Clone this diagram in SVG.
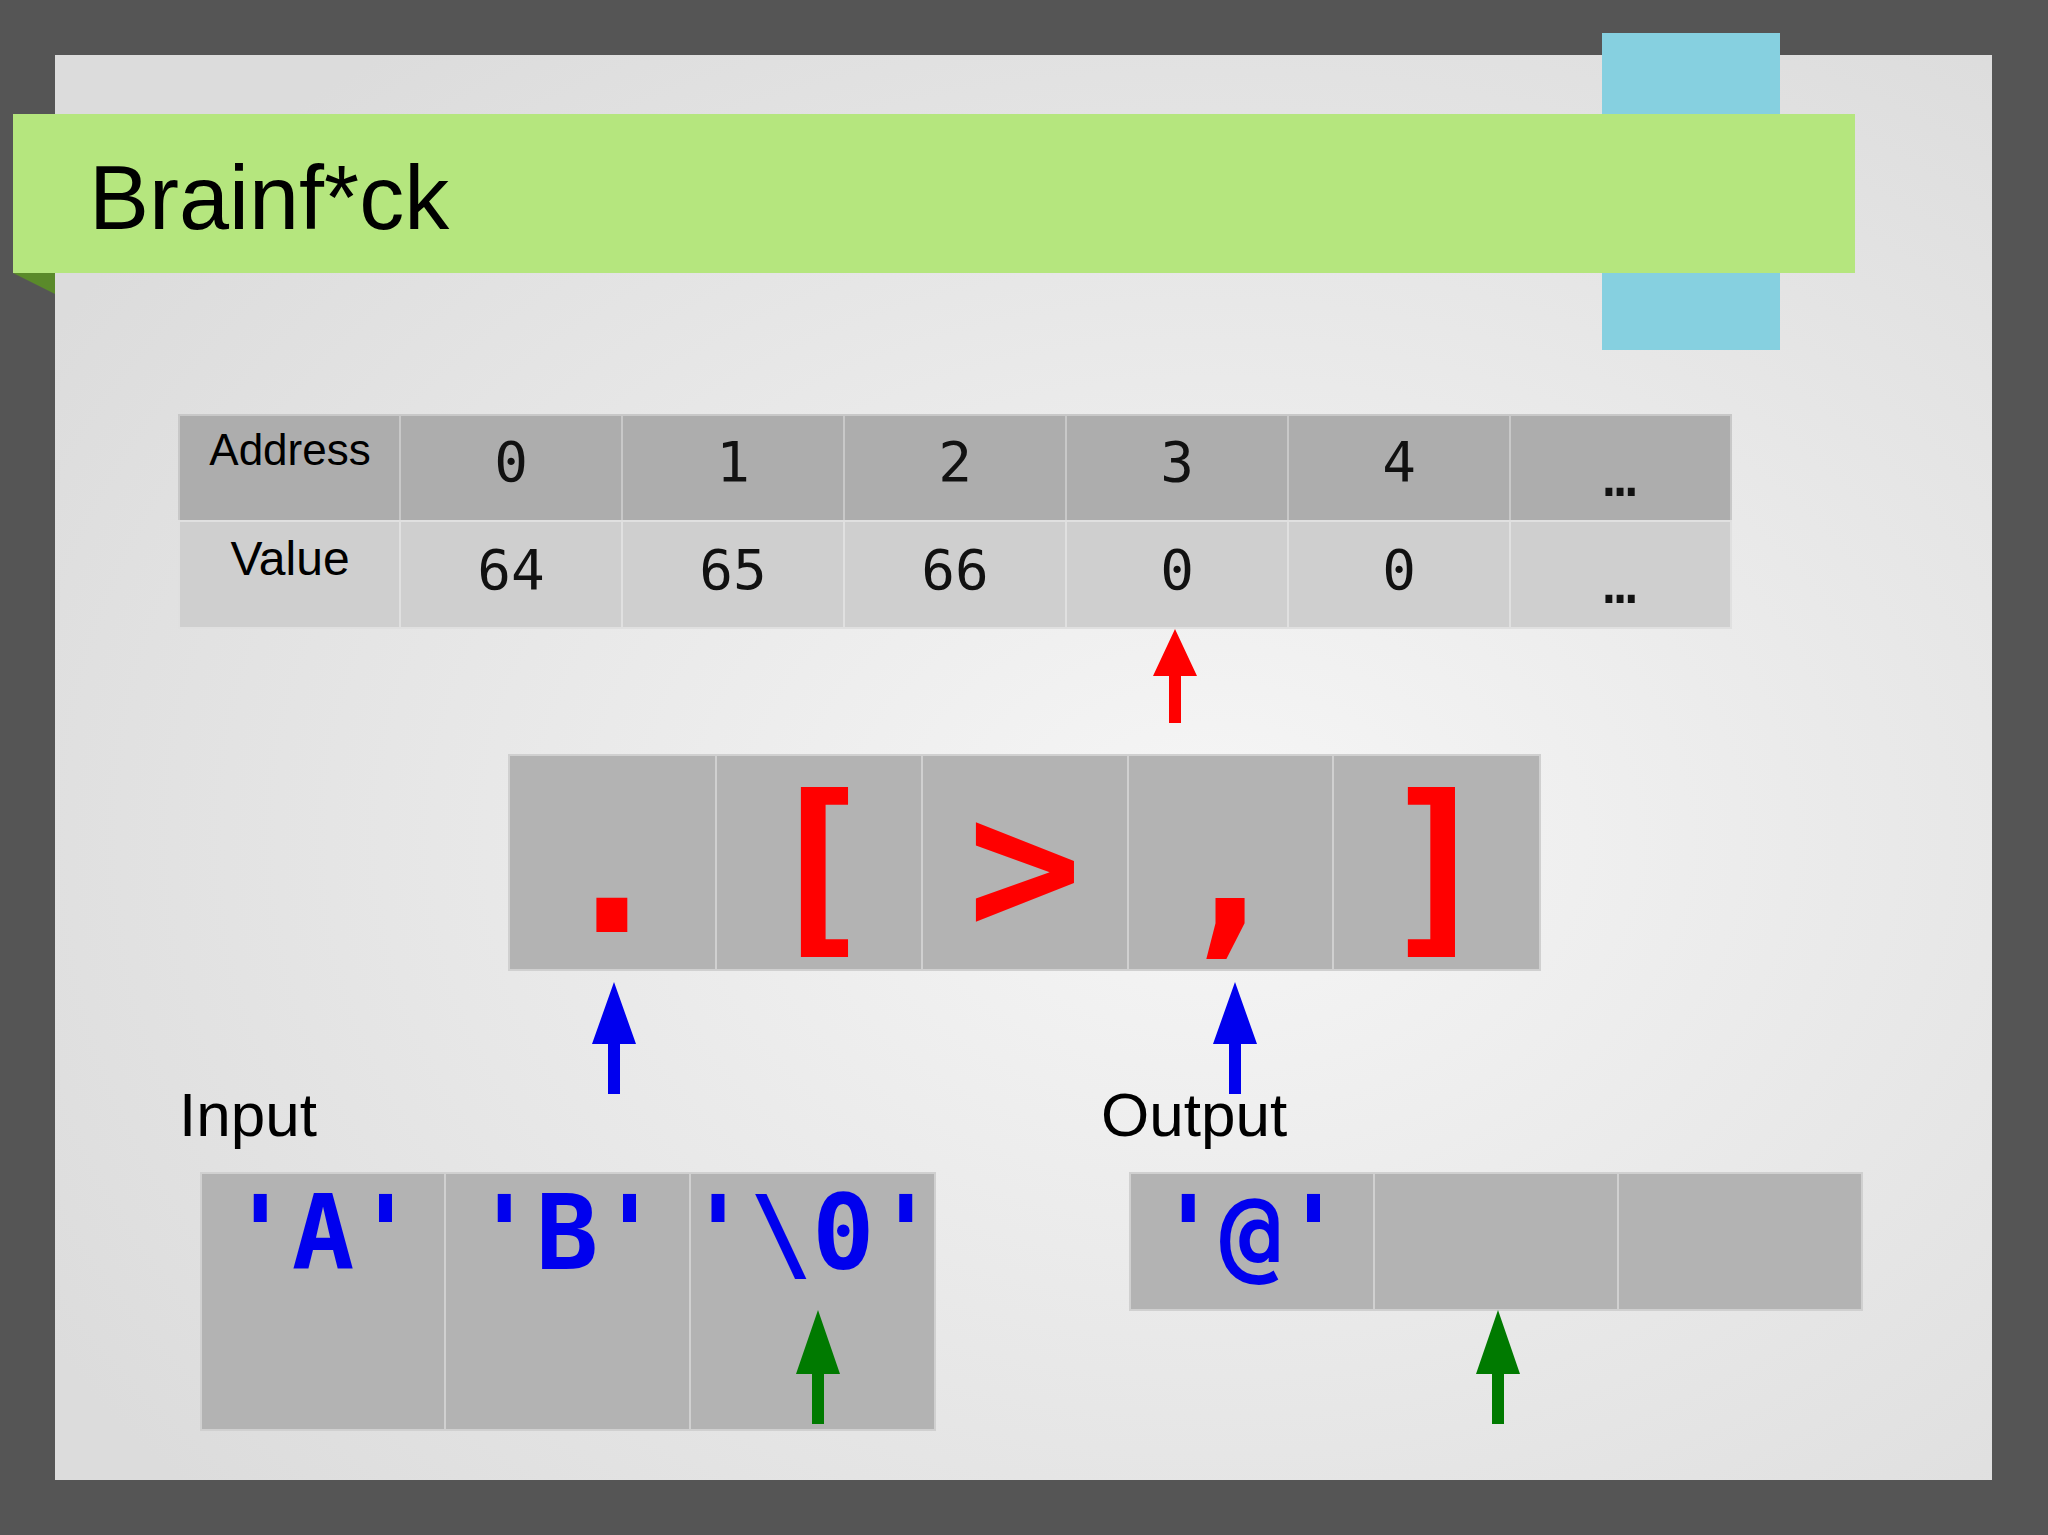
<svg xmlns="http://www.w3.org/2000/svg" width="2048" height="1535" viewBox="0 0 2048 1535">
<defs>
<radialGradient id="bg" cx="0.6" cy="0.55" r="0.7"><stop offset="0" stop-color="#f6f6f6"/><stop offset="1" stop-color="#dcdcdc"/></radialGradient>
<style>
.h{fill:#adadad;stroke:#c8c8c8;stroke-width:2}
.v{fill:#cfcfcf;stroke:#e0e0e0;stroke-width:2}
.c{fill:#b3b3b3;stroke:#d0d0d0;stroke-width:2}
.s{font-family:"Liberation Sans",sans-serif;fill:#000}
.m{font-family:"DejaVu Sans Mono",monospace;fill:#111;font-size:56px;text-anchor:middle}
.r{font-family:"DejaVu Sans Mono",monospace;font-weight:bold;fill:#ff0000;font-size:190px;text-anchor:middle}
.b{font-family:"DejaVu Sans Mono",monospace;font-weight:bold;fill:#0000ee;font-size:104px;text-anchor:middle}
</style>
</defs>
<rect width="2048" height="1535" fill="#555"/>
<rect x="55" y="55" width="1937" height="1425" fill="url(#bg)"/>
<rect x="1602" y="33" width="178" height="317" fill="#86d0e0"/>
<polygon points="13,273 55,273 55,294" fill="#5a8a2a"/>
<rect x="13" y="114" width="1842" height="159" fill="#b5e67e"/>
<text class="s" x="89" y="229" font-size="90">Brainf*ck</text>
<g id="table">
<rect class="h" x="179" y="415" width="221" height="106"/><rect class="h" x="400" y="415" width="222" height="106"/><rect class="h" x="622" y="415" width="222" height="106"/><rect class="h" x="844" y="415" width="222" height="106"/><rect class="h" x="1066" y="415" width="222" height="106"/><rect class="h" x="1288" y="415" width="222" height="106"/><rect class="h" x="1510" y="415" width="221" height="106"/>
<rect class="v" x="179" y="521" width="221" height="107"/><rect class="v" x="400" y="521" width="222" height="107"/><rect class="v" x="622" y="521" width="222" height="107"/><rect class="v" x="844" y="521" width="222" height="107"/><rect class="v" x="1066" y="521" width="222" height="107"/><rect class="v" x="1288" y="521" width="222" height="107"/><rect class="v" x="1510" y="521" width="221" height="107"/>
<text class="s" x="290" y="465" font-size="44" text-anchor="middle">Address</text>
<text class="s" x="290" y="575" font-size="48" text-anchor="middle">Value</text>
<text class="m" x="511" y="481">0</text><text class="m" x="733" y="481">1</text><text class="m" x="955" y="481">2</text><text class="m" x="1177" y="481">3</text><text class="m" x="1399" y="481">4</text><text class="m" x="1620" y="496">…</text>
<text class="m" x="511" y="589">64</text><text class="m" x="733" y="589">65</text><text class="m" x="955" y="589">66</text><text class="m" x="1177" y="589">0</text><text class="m" x="1399" y="589">0</text><text class="m" x="1620" y="603">…</text>
</g>
<g id="code">
<rect class="c" x="509" y="755" width="207" height="215"/><rect class="c" x="716" y="755" width="206" height="215"/><rect class="c" x="922" y="755" width="206" height="215"/><rect class="c" x="1128" y="755" width="205" height="215"/><rect class="c" x="1333" y="755" width="207" height="215"/>
<text class="r" x="612" y="932">.</text><text class="r" x="819" y="932">[</text><text class="r" x="1025" y="932">&gt;</text><text class="r" x="1230" y="932">,</text><text class="r" x="1437" y="932">]</text>
</g>
<text class="s" x="179" y="1136" font-size="62">Input</text>
<text class="s" x="1101" y="1136" font-size="62">Output</text>
<g id="input">
<rect class="c" x="201" y="1173" width="244" height="257"/><rect class="c" x="445" y="1173" width="245" height="257"/><rect class="c" x="690" y="1173" width="245" height="257"/>
<text class="b" x="323" y="1269">'A'</text><text class="b" x="567" y="1269">'B'</text><text class="b" x="812" y="1269">'\0'</text>
</g>
<g id="output">
<rect class="c" x="1130" y="1173" width="244" height="137"/><rect class="c" x="1374" y="1173" width="244" height="137"/><rect class="c" x="1618" y="1173" width="244" height="137"/>
<text class="b" x="1251" y="1269">'@'</text>
</g>
<g id="connectors">
<polygon points="1169,723 1181,723 1181,676 1197,676 1175,629 1153,676 1169,676" fill="#ff0000"/>
<polygon points="608,1094 620,1094 620,1044 636,1044 614,982 592,1044 608,1044" fill="#0000ee"/>
<polygon points="1229,1094 1241,1094 1241,1044 1257,1044 1235,982 1213,1044 1229,1044" fill="#0000ee"/>
<polygon points="812,1424 824,1424 824,1374 840,1374 818,1310 796,1374 812,1374" fill="#007a00"/>
<polygon points="1492,1424 1504,1424 1504,1374 1520,1374 1498,1310 1476,1374 1492,1374" fill="#007a00"/>
</g>
</svg>
